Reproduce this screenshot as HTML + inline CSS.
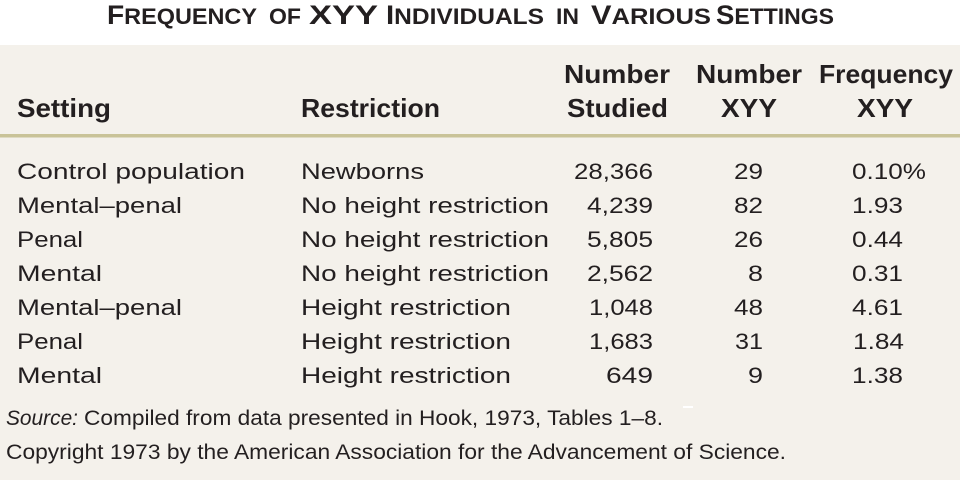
<!DOCTYPE html>
<html>
<head>
<meta charset="utf-8">
<style>
html,body{margin:0;padding:0;background:#fff;}
svg{display:block;}
text{font-family:"Liberation Sans",sans-serif;fill:#231f20;}
</style>
</head>
<body>
<svg width="960" height="480" viewBox="0 0 960 480" xmlns="http://www.w3.org/2000/svg">
  <rect x="0" y="0" width="960" height="480" fill="#ffffff"/>
  <rect x="0" y="45" width="960" height="435" fill="#f4f1eb"/>
  <rect x="0" y="134" width="960" height="3.5" fill="#c9c398"/>
  <rect x="683" y="406" width="10" height="2" fill="#ffffff"/>

  <!-- Title -->
  <g font-weight="bold">
    <text x="107" y="24" textLength="150" lengthAdjust="spacingAndGlyphs"><tspan font-size="27">F</tspan><tspan font-size="22.5">REQUENCY</tspan></text>
    <text x="269" y="24" font-size="22.5" textLength="32" lengthAdjust="spacingAndGlyphs">OF</text>
    <text x="309" y="24" font-size="27" textLength="69" lengthAdjust="spacingAndGlyphs">XYY</text>
    <text x="386" y="24" textLength="158" lengthAdjust="spacingAndGlyphs"><tspan font-size="27">I</tspan><tspan font-size="22.5">NDIVIDUALS</tspan></text>
    <text x="556" y="24" font-size="22.5" textLength="23" lengthAdjust="spacingAndGlyphs">IN</text>
    <text x="591" y="24" textLength="120" lengthAdjust="spacingAndGlyphs"><tspan font-size="27">V</tspan><tspan font-size="22.5">ARIOUS</tspan></text>
    <text x="716" y="24" textLength="118" lengthAdjust="spacingAndGlyphs"><tspan font-size="27">S</tspan><tspan font-size="22.5">ETTINGS</tspan></text>
  </g>

  <!-- Header -->
  <g font-weight="bold" font-size="26">
    <text x="17" y="117" textLength="94" lengthAdjust="spacingAndGlyphs">Setting</text>
    <text x="301" y="117" textLength="139" lengthAdjust="spacingAndGlyphs">Restriction</text>
    <text x="564" y="83" textLength="106" lengthAdjust="spacingAndGlyphs">Number</text>
    <text x="567" y="117" textLength="101" lengthAdjust="spacingAndGlyphs">Studied</text>
    <text x="696" y="83" textLength="106" lengthAdjust="spacingAndGlyphs">Number</text>
    <text x="721" y="117" textLength="56" lengthAdjust="spacingAndGlyphs">XYY</text>
    <text x="819" y="83" textLength="134" lengthAdjust="spacingAndGlyphs">Frequency</text>
    <text x="857" y="117" textLength="56" lengthAdjust="spacingAndGlyphs">XYY</text>
  </g>

  <!-- Body -->
  <g font-size="22.5">
    <text x="17" y="179" textLength="228" lengthAdjust="spacingAndGlyphs">Control population</text>
    <text x="17" y="213" textLength="165" lengthAdjust="spacingAndGlyphs">Mental–penal</text>
    <text x="17" y="247" textLength="66" lengthAdjust="spacingAndGlyphs">Penal</text>
    <text x="17" y="281" textLength="85" lengthAdjust="spacingAndGlyphs">Mental</text>
    <text x="17" y="315" textLength="165" lengthAdjust="spacingAndGlyphs">Mental–penal</text>
    <text x="17" y="349" textLength="66" lengthAdjust="spacingAndGlyphs">Penal</text>
    <text x="17" y="383" textLength="85" lengthAdjust="spacingAndGlyphs">Mental</text>

    <text x="301" y="179" textLength="123" lengthAdjust="spacingAndGlyphs">Newborns</text>
    <text x="301" y="213" textLength="248" lengthAdjust="spacingAndGlyphs">No height restriction</text>
    <text x="301" y="247" textLength="248" lengthAdjust="spacingAndGlyphs">No height restriction</text>
    <text x="301" y="281" textLength="248" lengthAdjust="spacingAndGlyphs">No height restriction</text>
    <text x="301" y="315" textLength="210" lengthAdjust="spacingAndGlyphs">Height restriction</text>
    <text x="301" y="349" textLength="210" lengthAdjust="spacingAndGlyphs">Height restriction</text>
    <text x="301" y="383" textLength="210" lengthAdjust="spacingAndGlyphs">Height restriction</text>

    <text x="574" y="179" textLength="79" lengthAdjust="spacingAndGlyphs">28,366</text>
    <text x="587" y="213" textLength="66" lengthAdjust="spacingAndGlyphs">4,239</text>
    <text x="587" y="247" textLength="66" lengthAdjust="spacingAndGlyphs">5,805</text>
    <text x="587" y="281" textLength="66" lengthAdjust="spacingAndGlyphs">2,562</text>
    <text x="589" y="315" textLength="64" lengthAdjust="spacingAndGlyphs">1,048</text>
    <text x="589" y="349" textLength="64" lengthAdjust="spacingAndGlyphs">1,683</text>
    <text x="606" y="383" textLength="47" lengthAdjust="spacingAndGlyphs">649</text>

    <text x="734" y="179" textLength="29" lengthAdjust="spacingAndGlyphs">29</text>
    <text x="734" y="213" textLength="29" lengthAdjust="spacingAndGlyphs">82</text>
    <text x="734" y="247" textLength="29" lengthAdjust="spacingAndGlyphs">26</text>
    <text x="748" y="281" textLength="15" lengthAdjust="spacingAndGlyphs">8</text>
    <text x="734" y="315" textLength="29" lengthAdjust="spacingAndGlyphs">48</text>
    <text x="735" y="349" textLength="28" lengthAdjust="spacingAndGlyphs">31</text>
    <text x="748" y="383" textLength="15" lengthAdjust="spacingAndGlyphs">9</text>

    <text x="852" y="179" textLength="74" lengthAdjust="spacingAndGlyphs">0.10%</text>
    <text x="852" y="213" textLength="51" lengthAdjust="spacingAndGlyphs">1.93</text>
    <text x="852" y="247" textLength="51" lengthAdjust="spacingAndGlyphs">0.44</text>
    <text x="852" y="281" textLength="51" lengthAdjust="spacingAndGlyphs">0.31</text>
    <text x="852" y="315" textLength="51" lengthAdjust="spacingAndGlyphs">4.61</text>
    <text x="853" y="349" textLength="51" lengthAdjust="spacingAndGlyphs">1.84</text>
    <text x="852" y="383" textLength="51" lengthAdjust="spacingAndGlyphs">1.38</text>
  </g>

  <!-- Footer -->
  <g font-size="21.5">
    <text x="6" y="425" font-style="italic" textLength="72" lengthAdjust="spacingAndGlyphs">Source:</text>
    <text x="84" y="425" textLength="579" lengthAdjust="spacingAndGlyphs">Compiled from data presented in Hook, 1973, Tables 1–8.</text>
    <text x="6" y="459" textLength="780" lengthAdjust="spacingAndGlyphs">Copyright 1973 by the American Association for the Advancement of Science.</text>
  </g>
</svg>
</body>
</html>
